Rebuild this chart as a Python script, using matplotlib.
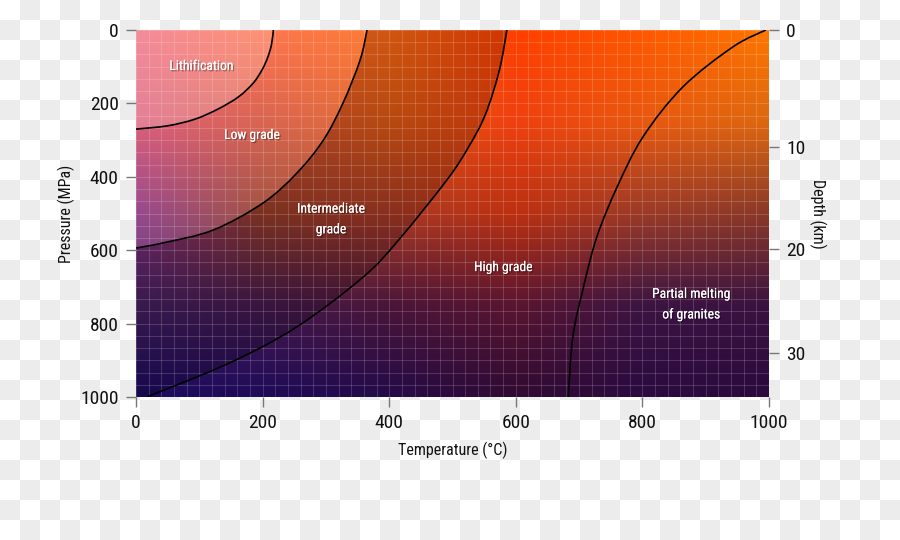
import numpy as np
import matplotlib.pyplot as plt
from matplotlib import font_manager
from matplotlib.path import Path
from matplotlib.patches import PathPatch
from matplotlib.colors import to_rgb, ListedColormap
import matplotlib.patheffects as pe

# narrow face if one is installed, otherwise Roboto
installed = {f.name for f in font_manager.fontManager.ttflist}
narrow = [n for n in ['Roboto Condensed', 'Liberation Sans Narrow', 'Open Sans Condensed',
                      'DejaVu Sans Condensed', 'Noto Sans Condensed'] if n in installed]
plt.rcParams['font.family'] = narrow[:1] + ['Roboto', 'DejaVu Sans']
plt.rcParams['font.stretch'] = 'condensed'

# axes
temp_ticks = [0, 200, 400, 600, 800, 1000]
pressure_ticks = [0, 200, 400, 600, 800, 1000]
depth_labels = ['0', '10', '20', '30']
depth_at_pressure = [0, 319, 597, 880]  # MPa where each depth tick sits

# boundaries, (temperature C, pressure MPa)
litho_T = [217, 214, 208, 199, 185, 162, 130, 93, 50, 0]
litho_P = [0, 40, 75, 109, 145, 182, 215, 243, 261, 270]
low_T = [365, 354, 327, 296, 254, 201, 122, 43, 0]
low_P = [0, 82, 199, 300, 390, 471, 545, 580, 594]
inter_T = [586, 574, 552, 525, 491, 415, 359, 254, 148, 17]
inter_P = [0, 110, 230, 320, 409, 572, 673, 809, 907, 1000]
melt_T = [995, 943, 864, 801, 760, 728, 707, 690, 683]
melt_P = [0, 46, 155, 291, 428, 564, 700, 837, 1000]

labels = ['Lithification', 'Low grade', 'Intermediate\ngrade', 'High grade', 'Partial melting\nof granites']
label_T = [103, 183, 308, 580, 877]
label_P = [98, 286, 515, 646, 747]

# background colour field
grad_T = [0, 200, 400, 600, 800, 1000]
grad_P = [0, 250, 500, 750, 1000]
grad_colors = [
    ['#f05a70', '#ff6238', '#ff6a14', '#ff3f00', '#ff5800', '#ff7600'],
    ['#d84a6a', '#d5503a', '#e05a14', '#ee4010', '#e85810', '#dc6810'],
    ['#8a3080', '#963c28', '#a83a26', '#bc3010', '#9a3a28', '#8a3828'],
    ['#452060', '#461a4e', '#4a1538', '#5a1530', '#3c1442', '#3a1240'],
    ['#1c0a60', '#1e0a58', '#240a48', '#300a32', '#2a0a40', '#2a0a3c'],
]


def curve_path(T, P, first=Path.MOVETO):
    # smooth curve through the read points (Catmull-Rom as cubic Bezier)
    pts = np.column_stack([T, P]).astype(float)
    ext = np.vstack([pts[0], pts, pts[-1]])
    verts = [pts[0]]
    codes = [first]
    for i in range(1, len(ext) - 2):
        c1 = ext[i] + (ext[i + 1] - ext[i - 1]) / 6
        c2 = ext[i + 1] - (ext[i + 2] - ext[i]) / 6
        verts += [c1, c2, ext[i + 1]]
        codes += [Path.CURVE4] * 3
    return verts, codes


def region(*parts):
    verts, codes = [], []
    for part in parts:
        if len(part) == 2 and np.ndim(part[0]) == 1:
            v, c = curve_path(part[0], part[1], Path.MOVETO if not verts else Path.LINETO)
        else:
            v = [np.array(xy, float) for xy in part]
            c = [Path.MOVETO if not verts else Path.LINETO] + [Path.LINETO] * (len(v) - 1)
        verts += v
        codes += c
    verts.append(verts[0])
    codes.append(Path.CLOSEPOLY)
    return Path(verts, codes)


fig = plt.figure(figsize=(9, 5.4), dpi=100)

# checkerboard (transparent png look)
bg = fig.add_axes([0, 0, 1, 1], zorder=-10)
checker = np.add.outer(np.arange(27), np.arange(45)) % 2
bg.imshow(checker, cmap=ListedColormap(['#ffffff', '#ececec']), interpolation='nearest',
          aspect='auto', extent=[0, 900, 540, 0])
bg.axis('off')

ax = fig.add_axes([136 / 900, 1 - 397 / 540, 633 / 900, 367 / 540])

C = np.array([[to_rgb(c) for c in row] for row in grad_colors])
t = np.linspace(0, 1000, 500)
p = np.linspace(0, 1000, 400)
rows = np.array([[np.interp(t, grad_T, C[j, :, k]) for k in range(3)] for j in range(len(grad_P))])
img = np.empty((len(p), len(t), 3))
for k in range(3):
    for i in range(len(t)):
        img[:, i, k] = np.interp(p, grad_P, rows[:, k, i])
ax.imshow(img, extent=[0, 1000, 1000, 0], aspect='auto', interpolation='bilinear', zorder=0)

# facies shading
ax.add_patch(PathPatch(region((litho_T, litho_P), [(0, 0)]), facecolor='white', alpha=0.3, lw=0, zorder=1))
ax.add_patch(PathPatch(region((low_T, low_P), (litho_T[::-1], litho_P[::-1])),
                       facecolor='white', alpha=0.12, lw=0, zorder=1))
ax.add_patch(PathPatch(region((inter_T, inter_P), [(0, 1000)], (low_T[::-1], low_P[::-1])),
                       facecolor='black', alpha=0.18, lw=0, zorder=1))

for T, P in [(litho_T, litho_P), (low_T, low_P), (inter_T, inter_P), (melt_T, melt_P)]:
    v, c = curve_path(T, P)
    ax.add_patch(PathPatch(Path(v, c), fill=False, edgecolor='black', lw=1.2, zorder=3))

shadow = [pe.withSimplePatchShadow(offset=(1, -1), shadow_rgbFace='black', alpha=0.35), pe.Normal()]
for txt, x, y in zip(labels, label_T, label_P):
    ax.text(x, y, txt, color='white', fontsize=9.8, ha='center', va='center',
            linespacing=1.6, path_effects=shadow, zorder=4)

ax.set_xlim(0, 1000)
ax.set_ylim(1000, 0)
ax.set_xticks(temp_ticks)
ax.set_yticks(pressure_ticks)
ax.set_xticks(np.arange(0, 1001, 20), minor=True)
ax.set_yticks(np.linspace(0, 1000, 31), minor=True)
ax.set_axisbelow(False)
ax.grid(which='both', color='white', alpha=0.16, lw=0.8)
ax.tick_params(which='minor', length=0)
ax.tick_params(which='major', length=7.5, width=1, color='#777777', pad=5,
               labelsize=14, labelcolor='#111111')
for s in ax.spines.values():
    s.set_visible(False)
ax.set_xlabel('Temperature (°C)', fontsize=11.5, labelpad=7, color='#111111')
ax.set_ylabel('Pressure (MPa)', fontsize=11.5, labelpad=4, color='#111111')

ax2 = ax.twinx()
ax2.set_ylim(1000, 0)
ax2.set_yticks(depth_at_pressure, depth_labels)
ax2.tick_params(length=7.5, width=1, color='#777777', pad=5, labelsize=14, labelcolor='#111111')
for s in ax2.spines.values():
    s.set_visible(False)
ax2.set_ylabel('Depth (km)', fontsize=11.5, rotation=270, labelpad=15, color='#111111')

fig.savefig('out.png', dpi=100)
